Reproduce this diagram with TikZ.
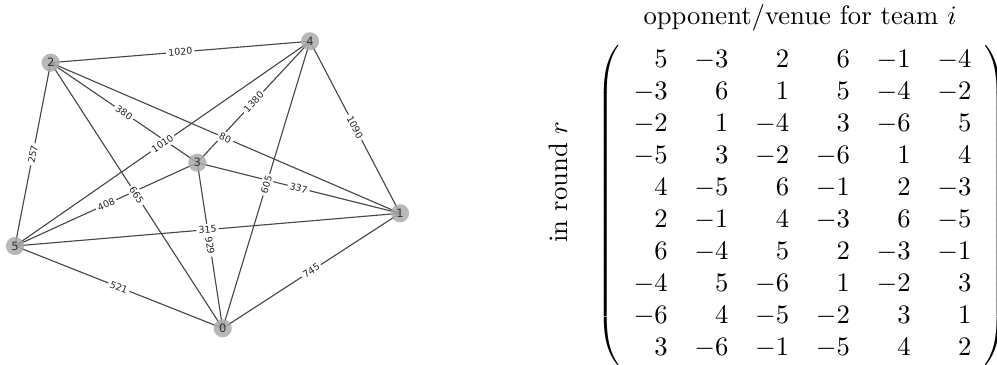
\documentclass[tikz,border=0pt]{standalone}
\usepackage{fontspec}
\newfontfamily\djv{DejaVu Sans}
\begin{document}
\begin{tikzpicture}[x=0.375pt,y=-0.375pt,
  vtx/.style={circle,fill=black!33,fill opacity=0.85,text opacity=1,inner sep=0pt,minimum size=6.8pt,
    font=\djv\fontsize{4.3}{5}\selectfont,text=black!80},
  edge/.style={draw=black!72,line width=0.42pt},
  wlbl/.style={sloped,fill=white,inner sep=0.8pt,font=\djv\fontsize{3.55}{4}\selectfont,text=black!85}]
\useasboundingbox (0,0) rectangle (997,365);
% vertex positions
\coordinate (p0) at (222.7,328.3);
\coordinate (p1) at (400,213.3);
\coordinate (p2) at (50.7,62.7);
\coordinate (p3) at (197.3,162.7);
\coordinate (p4) at (310,41.3);
\coordinate (p5) at (15,246);
% edges
\foreach \a/\b in {2/4,2/5,2/3,2/1,2/0,4/5,4/3,4/1,4/0,3/5,3/1,3/0,5/1,5/0,0/1}
  \draw[edge] (p\a) -- (p\b);
% vertices
\node[vtx] (n0) at (p0) {0};
\node[vtx] (n1) at (p1) {1};
\node[vtx] (n2) at (p2) {2};
\node[vtx] (n3) at (p3) {3};
\node[vtx] (n4) at (p4) {4};
\node[vtx] (n5) at (p5) {5};
% edge labels
\foreach \a/\b/\w in {2/4/1020,2/5/257,2/3/380,2/1/80,2/0/665,4/5/1010,4/3/1380,4/1/1090,4/0/605,3/5/408,3/1/337,3/0/929,5/1/315,5/0/521,0/1/745}
  \path (n\a.center) -- node[wlbl] {\w} (n\b.center);
% matrix
\node[anchor=base] (title) at (800,25) {opponent/venue for team $i$};
\node[rotate=90] (rlabel) at (558,182) {in round $r$};
\node[inner sep=0pt] (mat) at (802.5,205) {$\left(\begin{array}{rrrrrr}
 5 & -3 &  2 &  6 & -1 & -4\\
-3 &  6 &  1 &  5 & -4 & -2\\
-2 &  1 & -4 &  3 & -6 &  5\\
-5 &  3 & -2 & -6 &  1 &  4\\
 4 & -5 &  6 & -1 &  2 & -3\\
 2 & -1 &  4 & -3 &  6 & -5\\
 6 & -4 &  5 &  2 & -3 & -1\\
-4 &  5 & -6 &  1 & -2 &  3\\
-6 &  4 & -5 & -2 &  3 &  1\\
 3 & -6 & -1 & -5 &  4 &  2
\end{array}\right)$};
\end{tikzpicture}
\end{document}
